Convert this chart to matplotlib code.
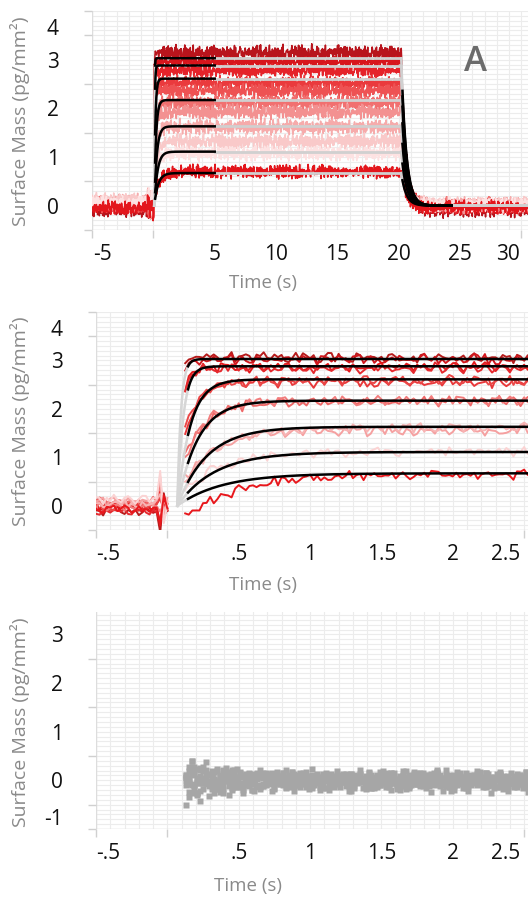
import numpy as np
import matplotlib
matplotlib.use('Agg')
import matplotlib.pyplot as plt
from matplotlib.ticker import FixedLocator

plt.rcParams['font.family'] = ['Open Sans', 'DejaVu Sans']

# ---------------- data ----------------
# kinetic fits (plateau pg/mm^2, observed rate 1/s)
FIT_R = [3.03, 2.88, 2.61, 2.17, 1.63, 1.11, 0.67]
FIT_K = [40.0, 24.0, 11.0, 7.0, 4.8, 3.8, 3.2]
FIT_T0 = 0.07
FIT_BLACK_START = 0.145
KOFF = 2.5
T_DISS = 20.2

# panel A traces (top -> bottom)
P1_LEVEL = [3.13, 2.96, 2.78, 2.52, 2.36, 2.12, 1.93, 1.62, 1.32, 1.08, 0.70]
P1_K = [40, 40, 24, 11, 11, 7, 7, 4.8, 3.8, 3.8, 2.6]
P1_START = [2.9, 2.8, 2.3, 1.8, 1.7, 1.1, 1.0, 0.6, 0.35, 0.3, 0.15]
P1_END = [-0.07, -0.05, -0.03, 0.0, 0.0, 0.02, 0.0, 0.02, 0.03, 0.02, -0.03]
P1_BASE = [-0.06, -0.03, 0.0, 0.02, 0.0, 0.05, 0.02, 0.08, 0.1, 0.06, -0.04]
P1_AMP = [0.17, 0.11, 0.13, 0.14, 0.14, 0.15, 0.15, 0.15, 0.16, 0.15, 0.14]
P1_COLOR = ['#b8141c', '#d7151c', '#e5232a', '#ea3a3d', '#ee5253', '#f17070',
            '#f39191', '#f6abab', '#f9c9c9', '#fde2e2', '#e3161c']

# zoomed association traces
P2_LEVEL = [3.06, 3.02, 2.86, 2.84, 2.55, 2.58, 2.15, 2.18, 1.55, 1.60, 1.12, 0.66]
P2_K = [40, 40, 24, 24, 10, 10, 6.5, 6.5, 4.5, 4.5, 3.8, 2.6]
P2_START = [2.95, 2.85, 2.4, 2.3, 1.5, 1.6, 1.0, 0.95, 0.55, 0.5, 0.3, -0.25]
P2_BASE = [-0.1, -0.05, 0.0, -0.12, 0.05, 0.0, 0.08, -0.02, 0.1, 0.04, 0.12, -0.06]
P2_SPIKE = [-0.45, -0.3, 0.3, -0.2, 0.1, 0.25, 0.4, -0.1, 0.5, 0.2, 0.6, -0.35]
P2_COLOR = ['#b71c1c', '#d3181e', '#e31a1c', '#e52a2f', '#e8383a', '#eb4747',
            '#ef6767', '#f27d7d', '#f5a0a0', '#f7b4b4', '#fbd3d3', '#e8171c']
P2_AMP = 0.11

# reference channel (grey squares)
P3_OFFSET = [0.0, -0.04, 0.03, -0.02, 0.05, -0.06, 0.02]

# hand-typed noise texture table
NOISE = [0.31, -0.72, 0.15, 0.88, -0.44, -0.09, 0.63, -0.91, 0.27, 0.52, -0.33, -0.78,
         0.95, 0.04, -0.58, 0.41, -0.17, 0.76, -0.66, 0.22, -0.97, 0.58, 0.11, -0.39,
         0.84, -0.25, -0.61, 0.47, 0.02, -0.86, 0.69, -0.12, 0.35, -0.53, 0.92, -0.71,
         0.18, -0.04, 0.57, -0.94, 0.29, 0.81, -0.37, -0.19, 0.66, -0.82, 0.43, 0.07,
         -0.55, 0.74, -0.29, 0.13, -0.68, 0.99, -0.46, 0.21, -0.14, 0.61, -0.89, 0.38,
         0.05, -0.63, 0.79, -0.23, -0.51, 0.33, 0.87, -0.76, 0.09, -0.35, 0.54, -0.98,
         0.26, 0.71, -0.42, -0.07, 0.49, -0.84, 0.16, 0.93, -0.59, 0.37, -0.21, -0.73,
         0.64, 0.01, -0.47, 0.83, -0.31, 0.19, -0.95, 0.45, 0.72, -0.11, -0.65, 0.28,
         0.58, -0.38, 0.12, -0.81, 0.67]

X1_TICKMARKS = [-5, 0, 5, 10, 15, 20, 25, 30]
X1_LABEL_POS = [-4.18, 5, 10, 15, 20, 25, 28.9]
X1_LABELS = ['-5', '5', '10', '15', '20', '25', '30']
X2_TICKMARKS = [-0.5, 0, 0.5, 1.0, 1.5, 2.0, 2.5]
X2_LABEL_POS = [-0.416, 0.5, 1.0, 1.5, 2.0, 2.37]
X2_LABELS = ['-.5', '.5', '1', '1.5', '2', '2.5']
Y12_LABEL_POS = [0, 1, 2, 3, 3.67]
Y12_LABELS = ['0', '1', '2', '3', '4']
Y3_LABEL_POS = [-0.76, 0, 1, 2, 3]
Y3_LABELS = ['-1', '0', '1', '2', '3']

# ---------------- helpers ----------------
W, H = 528, 897
fig = plt.figure(figsize=(W / 100, H / 100), dpi=100)
NARR = np.array(NOISE)
M = len(NARR)


def tex(j, n):
    i = np.arange(n)
    return (0.75 * NARR[(i * 7 + j * 13 + (i // M) * 3) % M]
            + 0.45 * NARR[(i * 17 + j * 31 + 5 + (i // M) * 5) % M])


def ax_at(left, top, bottom, right=W):
    return fig.add_axes([left / W, 1 - bottom / H, (right - left) / W, (bottom - top) / H])


def style(ax, xlim, ylim, xgrid, ygrid, xmarks, xpos, xlabels, ymarks, ypos, ylabels):
    ax.set_xlim(*xlim)
    ax.set_ylim(*ylim)
    for s in ax.spines.values():
        s.set_visible(False)
    for x in xgrid:
        ax.axvline(x, color='#ececec', lw=0.8, zorder=0)
    for y in ygrid:
        ax.axhline(y, color='#ececec', lw=0.8, zorder=0)
    ax.axvline(xlim[0], color='#dddddd', lw=1.0, zorder=0)
    ax.axhline(ylim[0], color='#dddddd', lw=1.0, zorder=0)
    ax.xaxis.set_major_locator(FixedLocator(xpos))
    ax.set_xticklabels(xlabels)
    ax.xaxis.set_minor_locator(FixedLocator(xmarks))
    ax.yaxis.set_major_locator(FixedLocator(ypos))
    ax.set_yticklabels(ylabels)
    ax.yaxis.set_minor_locator(FixedLocator(ymarks))
    ax.tick_params(which='major', length=0, labelsize=15, labelcolor='#111111')
    ax.tick_params(axis='x', which='major', pad=10)
    ax.tick_params(axis='y', which='major', pad=24)
    ax.tick_params(which='minor', length=6, width=1, color='#d0d0d0')


# ---------------- panel A ----------------
ax1 = ax_at(92, 11, 230)
t1 = np.round(np.arange(-5, 30.6, 0.03), 4)
n1 = len(t1)
for j in range(len(P1_LEVEL)):
    L, k, s0 = P1_LEVEL[j], P1_K[j], P1_START[j]
    tx = tex(j, n1)
    amp = np.where((t1 > -0.5) & (t1 < 0.05), 0.3, P1_AMP[j])
    y = np.where(t1 < 0.05, P1_BASE[j],
                 np.where(t1 < T_DISS,
                          L - (L - s0) * np.exp(-k * np.clip(t1 - 0.1, 0, None)),
                          (L - P1_END[j]) * np.exp(-KOFF * (t1 - T_DISS)) + P1_END[j]))
    y = y + amp * tx
    ax1.plot(t1, y, color=P1_COLOR[j], lw=1.1, zorder=2)

for R, k in zip(FIT_R, FIT_K):
    tg = np.linspace(FIT_T0, FIT_BLACK_START, 10)
    ax1.plot(tg, R * (1 - np.exp(-k * (tg - FIT_T0))), color='#d6d6d6', lw=1.8, zorder=3)
    tb = np.linspace(FIT_BLACK_START, 5, 200)
    ax1.plot(tb, R * (1 - np.exp(-k * (tb - FIT_T0))), color='black', lw=1.8, zorder=4)
    ax1.plot([5, T_DISS], [R, R], color='#d0d0d0', lw=2.0, zorder=3)
    td = np.linspace(T_DISS, T_DISS + 0.1, 5)
    ax1.plot(td, R * np.exp(-KOFF * (td - T_DISS)), color='#d0d0d0', lw=1.8, zorder=3)
    tb2 = np.linspace(T_DISS + 0.1, 24.3, 200)
    ax1.plot(tb2, R * np.exp(-KOFF * (tb2 - T_DISS)), color='black', lw=1.8, zorder=4)
    tg2 = np.array([24.3, 31])
    ax1.plot(tg2, R * np.exp(-KOFF * (tg2 - T_DISS)), color='#d0d0d0', lw=1.8, zorder=3)

style(ax1, (-5, 30.53), (-0.5, 4.0), np.arange(-5, 31, 1.0), np.arange(-0.5, 4.01, 0.1),
      X1_TICKMARKS, X1_LABEL_POS, X1_LABELS, np.arange(-0.5, 4.01, 0.5), Y12_LABEL_POS, Y12_LABELS)

# ---------------- panel B ----------------
ax2 = ax_at(96, 312, 530)
t2 = np.round(np.arange(-0.5, 2.551, 0.025), 4)
n2 = len(t2)
for j in range(len(P2_LEVEL)):
    L, k, s0 = P2_LEVEL[j], P2_K[j], P2_START[j]
    tx = tex(j + 40, n2)
    y = np.where(t2 <= 0.001, P2_BASE[j] + 0.1 * tx,
                 L - (L - s0) * np.exp(-k * np.clip(t2 - 0.125, 0, None)) + P2_AMP * tx)
    y = np.where(np.isclose(t2, -0.05), P2_BASE[j] + P2_SPIKE[j], y)
    y = np.where(np.isclose(t2, -0.025), P2_BASE[j] - 0.8 * P2_SPIKE[j], y)
    y = np.where((t2 > 0.01) & (t2 < 0.12), np.nan, y)
    ax2.plot(t2, y, color=P2_COLOR[j], lw=1.4, zorder=2)

for R, k in zip(FIT_R, FIT_K):
    tg = np.linspace(FIT_T0, FIT_BLACK_START, 20)
    ax2.plot(tg, R * (1 - np.exp(-k * (tg - FIT_T0))), color='#d6d6d6', lw=1.8, zorder=3)
    tb = np.linspace(FIT_BLACK_START, 2.6, 300)
    ax2.plot(tb, R * (1 - np.exp(-k * (tb - FIT_T0))), color='black', lw=1.8, zorder=4)

style(ax2, (-0.5, 2.527), (-0.5, 4.0), np.arange(-0.5, 2.6, 0.1), np.arange(-0.5, 4.01, 0.1),
      X2_TICKMARKS, X2_LABEL_POS, X2_LABELS, np.arange(-0.5, 4.01, 0.5), Y12_LABEL_POS, Y12_LABELS)

# ---------------- panel C ----------------
ax3 = ax_at(96, 612, 829)
t3 = np.round(np.arange(0.13, 2.56, 0.02), 4)
n3 = len(t3)
env = 0.17 + 0.33 * np.exp(-(t3 - 0.13) / 0.2)
for j, off in enumerate(P3_OFFSET):
    y = off + env * tex(j + 80, n3)
    ax3.plot(t3, y, 's', ms=4.2, color='#a6a6a6', mec='none', zorder=2)

style(ax3, (-0.5, 2.527), (-1.0, 3.46), np.arange(-0.5, 2.6, 0.1), np.arange(-1.0, 3.47, 0.1),
      X2_TICKMARKS, X2_LABEL_POS, X2_LABELS, np.arange(-1.0, 3.51, 0.5), Y3_LABEL_POS, Y3_LABELS)

# ---------------- labels ----------------
for (xc, yc) in [(20, 121), (20, 421), (20, 722)]:
    fig.text(xc / W, 1 - yc / H, 'Surface Mass (pg/mm²)', rotation=90, ha='center', va='center',
             fontsize=14, color='#8a8a8a')
for (xc, yc) in [(263, 283), (263, 585), (248, 886)]:
    fig.text(xc / W, 1 - yc / H, 'Time (s)', ha='center', va='center', fontsize=13.5, color='#8a8a8a')
fig.text(475 / W, 1 - 62 / H, 'A', ha='center', va='center', fontsize=25, fontweight='semibold',
         color='#6b6b6b')

fig.savefig('out.png', dpi=100)
